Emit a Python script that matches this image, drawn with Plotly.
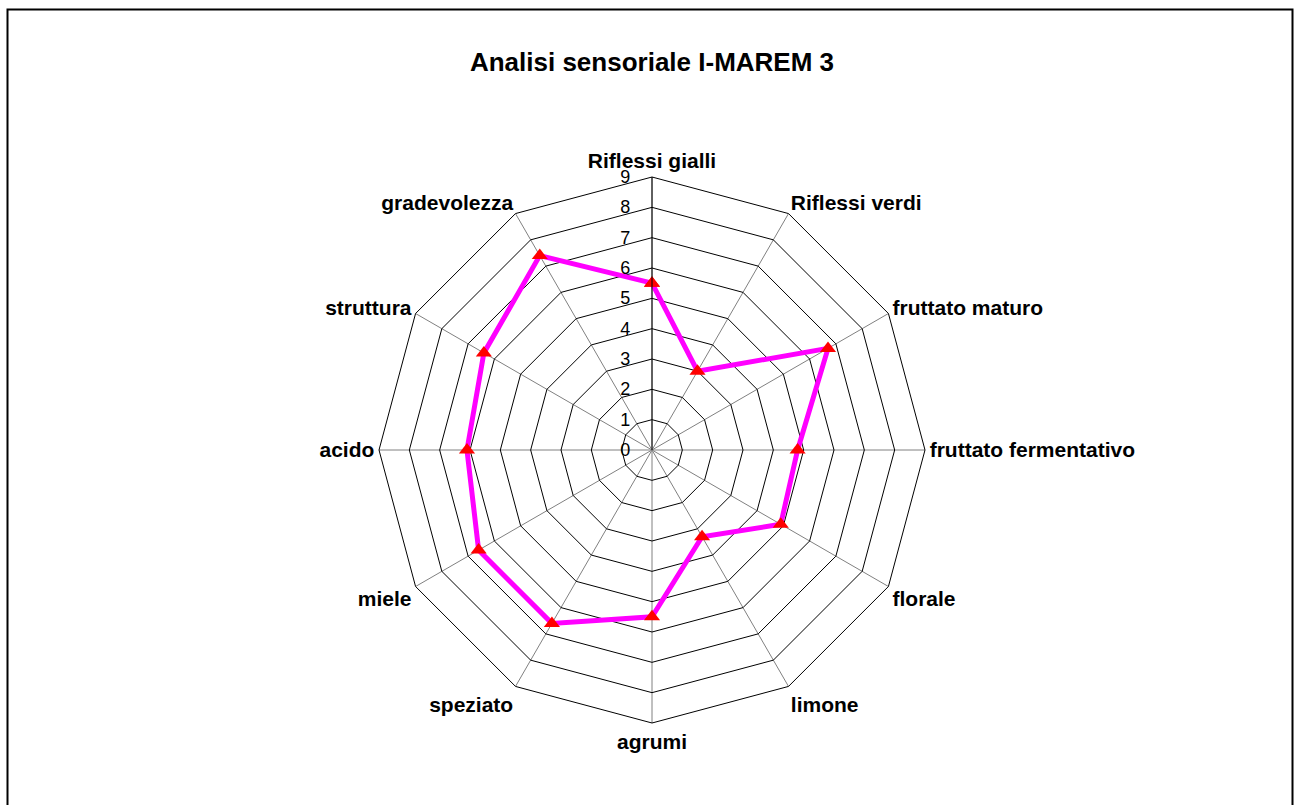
import plotly.graph_objects as go

categories = ["Riflessi gialli", "Riflessi verdi", "fruttato maturo", "fruttato fermentativo",
              "florale", "limone", "agrumi", "speziato", "miele", "acido", "struttura", "gradevolezza"]
values = [5.5, 3.0, 6.7, 4.8, 4.9, 3.3, 5.5, 6.6, 6.6, 6.1, 6.4, 7.4]
radial_ticks = [0, 1, 2, 3, 4, 5, 6, 7, 8, 9]
title_text = "Analisi sensoriale I-MAREM 3"

W, H = 1294, 805
cx, cy, R = 652, 450, 273

fig = go.Figure()
fig.add_trace(go.Scatterpolar(
    r=values + values[:1],
    theta=categories + categories[:1],
    mode="lines+markers",
    line=dict(color="#FF00FF", width=5),
    marker=dict(symbol="triangle-up", size=14, color="#FF0000"),
    showlegend=False,
    cliponaxis=False,
))

font_family = "Arial, Liberation Sans, sans-serif"
nb = "\u00a0"
fig.update_layout(
    width=W, height=H,
    margin=dict(l=0, r=0, t=0, b=0),
    paper_bgcolor="white",
    plot_bgcolor="white",
    font=dict(family=font_family, color="black"),
    title=dict(text="<b>" + title_text + "</b>", x=cx / W, y=1 - 62 / H,
               xanchor="center", yanchor="middle",
               font=dict(size=26, family=font_family, color="black")),
    polar=dict(
        domain=dict(x=[(cx - R) / W, (cx + R) / W], y=[(H - cy - R) / H, (H - cy + R) / H]),
        gridshape="linear",
        bgcolor="white",
        angularaxis=dict(
            categoryorder="array", categoryarray=categories,
            rotation=90, direction="clockwise",
            showline=True, linecolor="black", linewidth=1,
            gridcolor="#808080", gridwidth=1,
            ticks="", tickfont=dict(size=21, family=font_family, color="black"),
            tickvals=categories,
            ticktext=["<b>" + c + "</b>" for c in categories],
        ),
        radialaxis=dict(
            range=[0, 9], tickvals=radial_ticks,
            ticktext=[str(t) + nb * 3 for t in radial_ticks],
            angle=90, side="counterclockwise",
            showline=True, linecolor="black", linewidth=1,
            gridcolor="black", gridwidth=1,
            ticks="", tickfont=dict(size=18, family=font_family, color="black"),
            tickangle=90,
        ),
    ),
    shapes=[dict(type="rect", xref="paper", yref="paper",
                 x0=7.5 / W, x1=1292.5 / W, y0=-0.05, y1=1 - 9.5 / H,
                 line=dict(color="black", width=2), fillcolor="rgba(0,0,0,0)")],
)

fig.write_html("out.html", config={"displayModeBar": False},
               post_script="document.body.style.margin='0px';")
